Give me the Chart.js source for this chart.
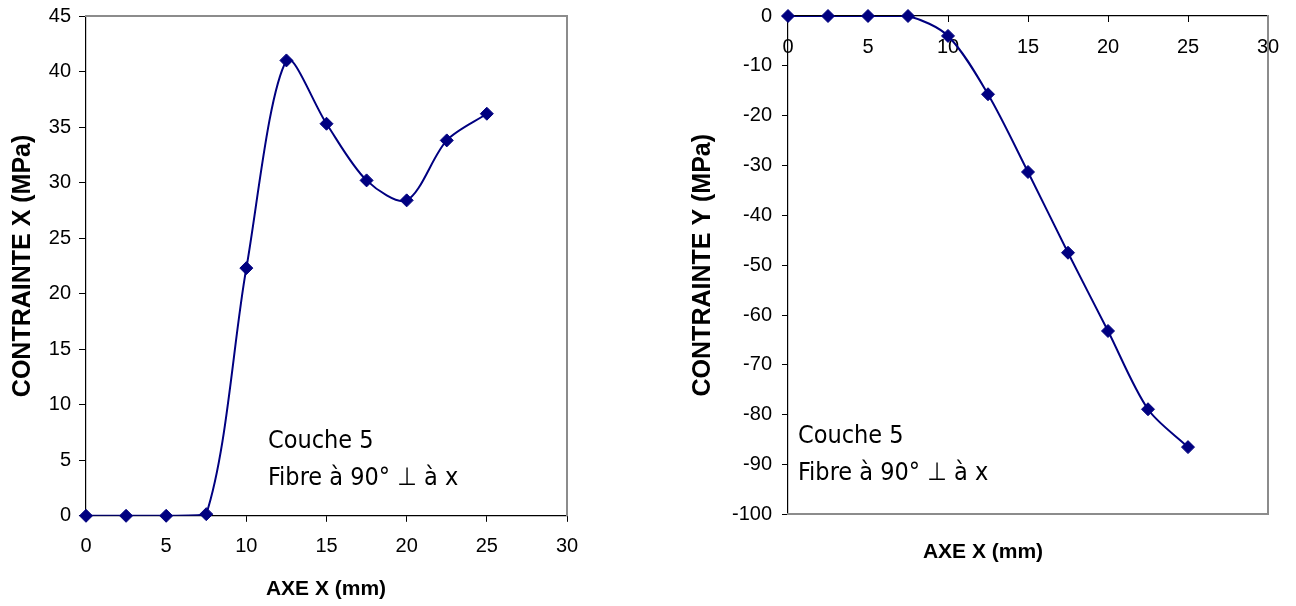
<!DOCTYPE html>
<html><head><meta charset="utf-8">
<script src="https://cdn.jsdelivr.net/npm/chart.js@4"></script>
<style>
body{margin:0;background:#fff;width:1296px;height:606px;overflow:hidden;position:relative}
canvas{position:absolute;top:0}
#c1{left:0}
#c2{left:670px}
</style></head>
<body>
<canvas id="c1" width="652" height="606"></canvas>
<canvas id="c2" width="626" height="606"></canvas>
<script>
// ---- data ----
const positionsMm = [0, 2.5, 5, 7.5, 10, 12.5, 15, 17.5, 20, 22.5, 25];
const contrainteX = [0, 0, 0, 0.15, 22.3, 41.0, 35.3, 30.2, 28.4, 33.8, 36.2];
const contrainteY = [0, 0, 0, 0, -4.0, -15.7, -31.3, -47.5, -63.2, -78.9, -86.5];
const xAxisTitle = 'AXE X (mm)';
const yTitleLeft = 'CONTRAINTE X (MPa)';
const yTitleRight = 'CONTRAINTE Y (MPa)';
const noteLines = ['Couche 5', 'Fibre à 90° ⊥ à x'];

// ---- styles ----
const NAVY = '#000080';
const GRAY = '#8c8c8c';
const TICK_FONT = {family: '"Liberation Sans", Arial, sans-serif', size: 20};
const X_TITLE_FONT = {family: '"Liberation Sans", Arial, sans-serif', size: 21, weight: 'bold'};
const Y_TITLE_FONT = {family: '"Liberation Sans", Arial, sans-serif', size: 25, weight: 'bold'};
const NOTE_FONT = '25px "DejaVu Sans Condensed", "DejaVu Sans", sans-serif';

// fix a scale's thickness and drop the extra label padding it asks of the layout
const fix = (prop, v) => (s) => {
  s[prop] = v;
  s.paddingTop = 0; s.paddingBottom = 0; s.paddingLeft = 0; s.paddingRight = 0;
};
const pts = (ys) => positionsMm.map((x, i) => ({x, y: ys[i]}));

const notePlugin = {
  id: 'note',
  afterDatasetsDraw(chart, args, opts) {
    const ctx = chart.ctx, a = chart.chartArea;
    ctx.save();
    ctx.font = NOTE_FONT;
    ctx.fillStyle = '#000';
    ctx.textBaseline = 'alphabetic';
    ctx.textAlign = 'left';
    noteLines.forEach((t, i) => ctx.fillText(t, a.left + opts.dx, a.top + opts.dy + i * 37));
    ctx.restore();
  }
};

function datasets(ys) {
  return [
    {data: pts(ys), borderColor: NAVY, borderWidth: 2, tension: 0.3, pointRadius: 0, fill: false},
    {data: pts(ys), showLine: false, pointStyle: 'rectRot', pointRadius: 6.5, pointBorderWidth: 1,
     pointBackgroundColor: NAVY, pointBorderColor: NAVY, clip: false}
  ];
}

function hiddenAxis(position, size, color, width) {
  const horiz = position === 'top' || position === 'bottom';
  return {
    type: 'linear', position, min: 0, max: 30,
    ticks: {display: false},
    grid: {drawOnChartArea: false, drawTicks: false},
    border: {color, width},
    afterFit: fix(horiz ? 'height' : 'width', size)
  };
}

// ---- left chart ----
new Chart(document.getElementById('c1'), {
  type: 'line',
  data: {datasets: datasets(contrainteX)},
  plugins: [notePlugin],
  options: {
    responsive: false, animation: false,
    layout: {padding: 0},
    plugins: {
      legend: {display: false}, tooltip: {enabled: false},
      title: {display: true, text: xAxisTitle, position: 'bottom', font: X_TITLE_FONT, color: '#000',
              padding: {top: 0, bottom: 4}},
      note: {dx: 182, dy: 432}
    },
    scales: {
      x: {
        type: 'linear', position: 'bottom', min: 0, max: 30,
        ticks: {stepSize: 5, font: TICK_FONT, color: '#000', padding: 13, maxRotation: 0},
        grid: {drawOnChartArea: false, tickLength: 6, color: '#000'},
        border: {color: '#000', width: 1.2},
        afterFit: fix('height', 61)
      },
      y: {
        type: 'linear', position: 'left', min: 0, max: 45,
        ticks: {stepSize: 5, font: TICK_FONT, color: '#000', padding: 8},
        grid: {drawOnChartArea: false, tickLength: 7, color: '#000'},
        border: {color: '#000', width: 1.2},
        title: {display: true, text: yTitleLeft, font: Y_TITLE_FONT, color: '#000', padding: {top: 8, bottom: 0}},
        afterFit: fix('width', 86)
      },
      xTop: hiddenAxis('top', 16, GRAY, 2),
      yRight: hiddenAxis('right', 85, GRAY, 2)
    }
  }
});

// ---- right chart ----
new Chart(document.getElementById('c2'), {
  type: 'line',
  data: {datasets: datasets(contrainteY)},
  plugins: [notePlugin],
  options: {
    responsive: false, animation: false,
    layout: {padding: 0},
    plugins: {
      legend: {display: false}, tooltip: {enabled: false},
      title: {display: true, text: xAxisTitle, position: 'bottom', font: X_TITLE_FONT, color: '#000',
              padding: {top: 0, bottom: 41}},
      note: {dx: 10, dy: 427}
    },
    scales: {
      x: {
        type: 'linear', position: 'top', min: 0, max: 30,
        ticks: {stepSize: 5, font: TICK_FONT, color: '#000', padding: 19, mirror: true, maxRotation: 0},
        grid: {drawOnChartArea: false, tickLength: -6, color: '#000'},
        border: {color: '#000', width: 1.2},
        afterFit: fix('height', 16)
      },
      y: {
        type: 'linear', position: 'left', min: -100, max: 0,
        ticks: {stepSize: 10, font: TICK_FONT, color: '#000', padding: 10},
        grid: {drawOnChartArea: false, tickLength: 6, color: '#000'},
        border: {color: '#000', width: 1.2},
        title: {display: true, text: yTitleRight, font: Y_TITLE_FONT, color: '#000', padding: {top: 18, bottom: 0}},
        afterFit: fix('width', 118)
      },
      xBottom: hiddenAxis('bottom', 25.4, GRAY, 2),
      yRight: hiddenAxis('right', 28, GRAY, 2)
    }
  }
});
</script>
</body></html>
